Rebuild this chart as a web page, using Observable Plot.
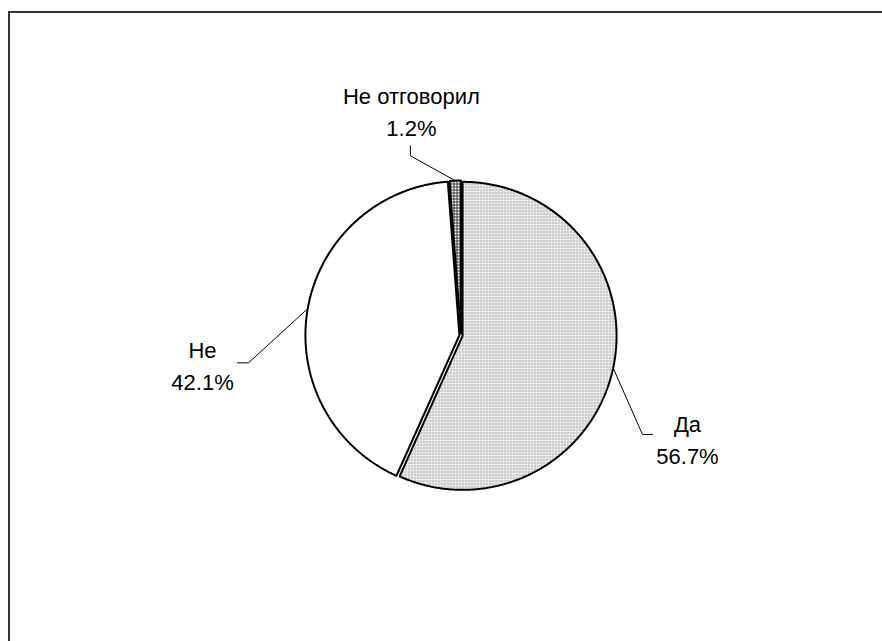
<!DOCTYPE html>
<html>
<head>
<meta charset="utf-8">
<script src="https://cdn.jsdelivr.net/npm/d3@7"></script>
<script src="https://cdn.jsdelivr.net/npm/@observablehq/plot@0.6"></script>
<style>
  html, body { margin: 0; padding: 0; background: #fff; overflow: hidden; }
  #wrap { position: relative; width: 882px; height: 641px; }
  #frame { position: absolute; left: 8px; top: 11px; width: 1000px; height: 1000px;
           border-left: 2px solid #333; border-top: 2px solid #333; pointer-events: none; }
  #wrap svg { position: absolute; left: 0; top: 0; }
</style>
</head>
<body>
<div id="wrap"><div id="chart"></div><div id="frame"></div></div>
<script>
// ---- data ----
const categories = ["Да", "Не", "Не отговорил"];
const values = [56.7, 42.1, 1.2];
const valueLabels = ["56.7%", "42.1%", "1.2%"];

// ---- layout (not data) ----
const W = 882, H = 641;
const CX = 460.5, CY = 335, R = 154;
const fills = ["url(#pat-da)", "#ffffff", "url(#pat-no)"];
const explode = [1.6, 1.6, 1.0];
// label placement: polar angle (deg, clockwise from top), distance, leader side
const labelLayout = [
  {angle: 114.3, dist: 248.5, side: "left"},
  {angle: 263.75, dist: 260.0, side: "right"},
  {angle: 347.6, dist: 231.1, side: "bottom"}
];

const arcs = d3.pie().sort(null).value(d => d)(values);
const rad = Math.PI / 180;

const slices = arcs.map((a, i) => {
  const mid = (a.startAngle + a.endAngle) / 2;
  const ox = explode[i] * Math.sin(mid), oy = -explode[i] * Math.cos(mid);
  const pts = [{x: ox, y: oy}];
  const n = Math.max(2, Math.ceil((a.endAngle - a.startAngle) / (0.5 * rad)));
  for (let k = 0; k <= n; k++) {
    const t = a.startAngle + (a.endAngle - a.startAngle) * k / n;
    pts.push({x: ox + R * Math.sin(t), y: oy - R * Math.cos(t)});
  }
  return {pts, mid, ox, oy};
});

const labels = arcs.map((a, i) => {
  const L = labelLayout[i];
  const th = L.angle * rad;
  return {
    x: L.dist * Math.sin(th),
    y: -L.dist * Math.cos(th),
    text: categories[i] + "\n" + valueLabels[i]
  };
});

const leaders = [];
slices.forEach((s, i) => {
  const L = labelLayout[i], lb = labels[i];
  const start = {x: s.ox + R * Math.sin(s.mid), y: s.oy - R * Math.cos(s.mid)};
  let end, elbow;
  if (L.side === "left") { end = {x: lb.x - 35, y: lb.y - 3.3}; elbow = {x: end.x - 10, y: end.y}; }
  else if (L.side === "right") { end = {x: lb.x + 35, y: lb.y - 1}; elbow = {x: end.x + 11, y: end.y}; }
  else { end = {x: lb.x - 1, y: lb.y + 36}; elbow = {x: end.x, y: end.y + 10}; }
  [end, elbow, start].forEach(p => leaders.push({...p, key: categories[i]}));
});

const plot = Plot.plot({
  width: W, height: H,
  margin: 0,
  x: {domain: [-CX, W - CX], range: [0, W], axis: null},
  y: {domain: [-CY, H - CY], range: [0, H], axis: null},
  style: {background: "transparent"},
  marks: [
    ...slices.map((s, i) => Plot.line(s.pts, {
      x: "x", y: "y", curve: "linear-closed",
      fill: fills[i], stroke: "#000", strokeWidth: 2, strokeLinejoin: "miter"
    })),
    Plot.line(leaders, {x: "x", y: "y", z: "key", stroke: "#000", strokeWidth: 1}),
    Plot.text(labels, {
      x: "x", y: "y", text: "text",
      fontSize: 22, lineHeight: 1.45, lineAnchor: "middle", textAnchor: "middle",
      fontFamily: "Liberation Sans, Arial, sans-serif", fill: "#000"
    })
  ]
});

d3.select(plot).insert("defs", ":first-child").html(
  '<pattern id="pat-da" width="3" height="3" patternUnits="userSpaceOnUse">' +
  '<rect width="3" height="3" fill="#fff"/>' +
  '<path d="M0 0.5H3M0.5 0V3" stroke="#bdbdbd" stroke-width="1"/></pattern>' +
  '<pattern id="pat-no" width="3" height="3" patternUnits="userSpaceOnUse">' +
  '<rect width="3" height="3" fill="#fff"/>' +
  '<path d="M0 0.5H3M0.5 0V3" stroke="#333" stroke-width="1"/></pattern>'
);

document.getElementById("chart").appendChild(plot);
</script>
</body>
</html>
